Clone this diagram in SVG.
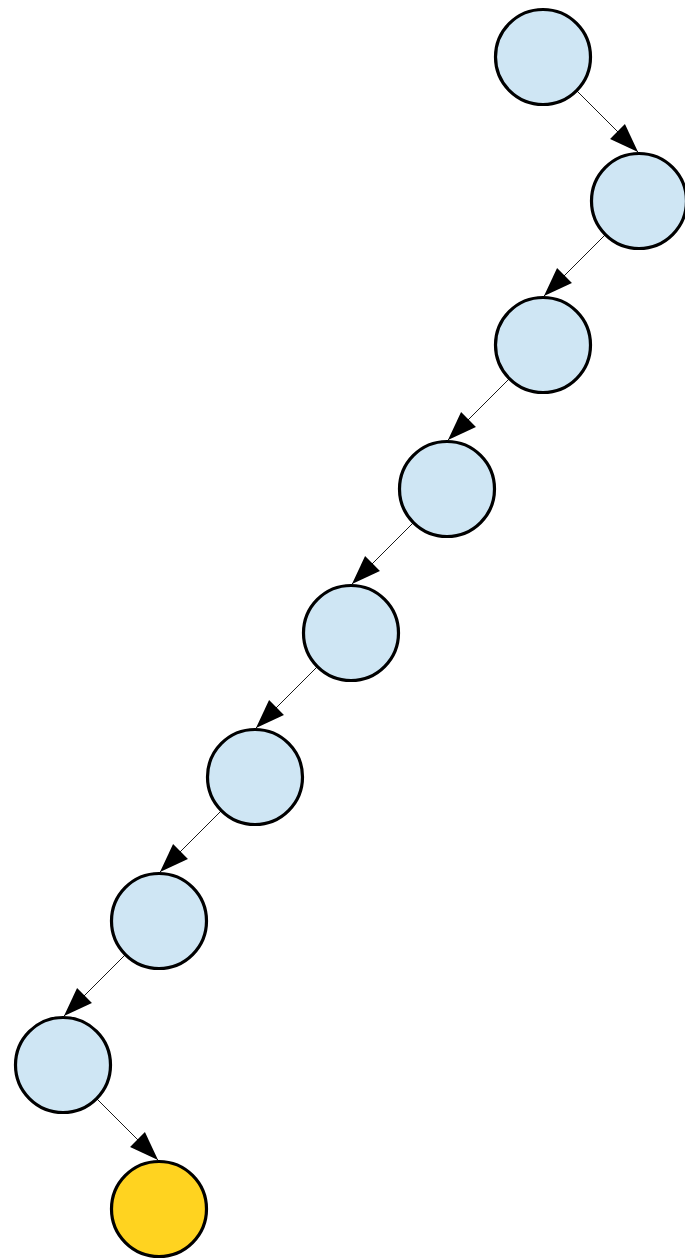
<svg xmlns="http://www.w3.org/2000/svg" width="685" height="1259" viewBox="0 0 685 1259">
<style>
.n{fill:#cfe6f4;stroke:#000;stroke-width:3.2}
.g{fill:#ffd320;stroke:#000;stroke-width:3.2}
.e{stroke:#000;stroke-width:0.9;fill:none;marker-end:url(#ah)}
</style>
<defs>
<marker id="ah" markerUnits="userSpaceOnUse" markerWidth="32" markerHeight="24" viewBox="0 -12 30 24" refX="29" refY="0" orient="auto">
<path d="M0,-10.5 L29,0 L0,10.5 z" fill="#000"/>
</marker>
</defs>
<rect width="685" height="1259" fill="#fff"/>
<g id="connectors">
<line class="e" x1="577" y1="91" x2="638" y2="152"/>
<line class="e" x1="605" y1="235" x2="544" y2="296"/>
<line class="e" x1="509" y1="379" x2="448" y2="440"/>
<line class="e" x1="413" y1="523" x2="352" y2="584"/>
<line class="e" x1="317" y1="667" x2="256" y2="728"/>
<line class="e" x1="221" y1="811" x2="160" y2="872"/>
<line class="e" x1="125" y1="955" x2="64" y2="1016"/>
<line class="e" x1="97" y1="1099" x2="158" y2="1160"/>
</g>
<g id="n1"><circle class="n" cx="543" cy="57" r="47.5"/></g>
<g id="n2"><circle class="n" cx="639" cy="201" r="47.5"/></g>
<g id="n3"><circle class="n" cx="543" cy="345" r="47.5"/></g>
<g id="n4"><circle class="n" cx="447" cy="489" r="47.5"/></g>
<g id="n5"><circle class="n" cx="351" cy="633" r="47.5"/></g>
<g id="n6"><circle class="n" cx="255" cy="777" r="47.5"/></g>
<g id="n7"><circle class="n" cx="159" cy="921" r="47.5"/></g>
<g id="n8"><circle class="n" cx="63" cy="1065" r="47.5"/></g>
<g id="n9"><circle class="g" cx="159" cy="1209" r="47.5"/></g>
</svg>
